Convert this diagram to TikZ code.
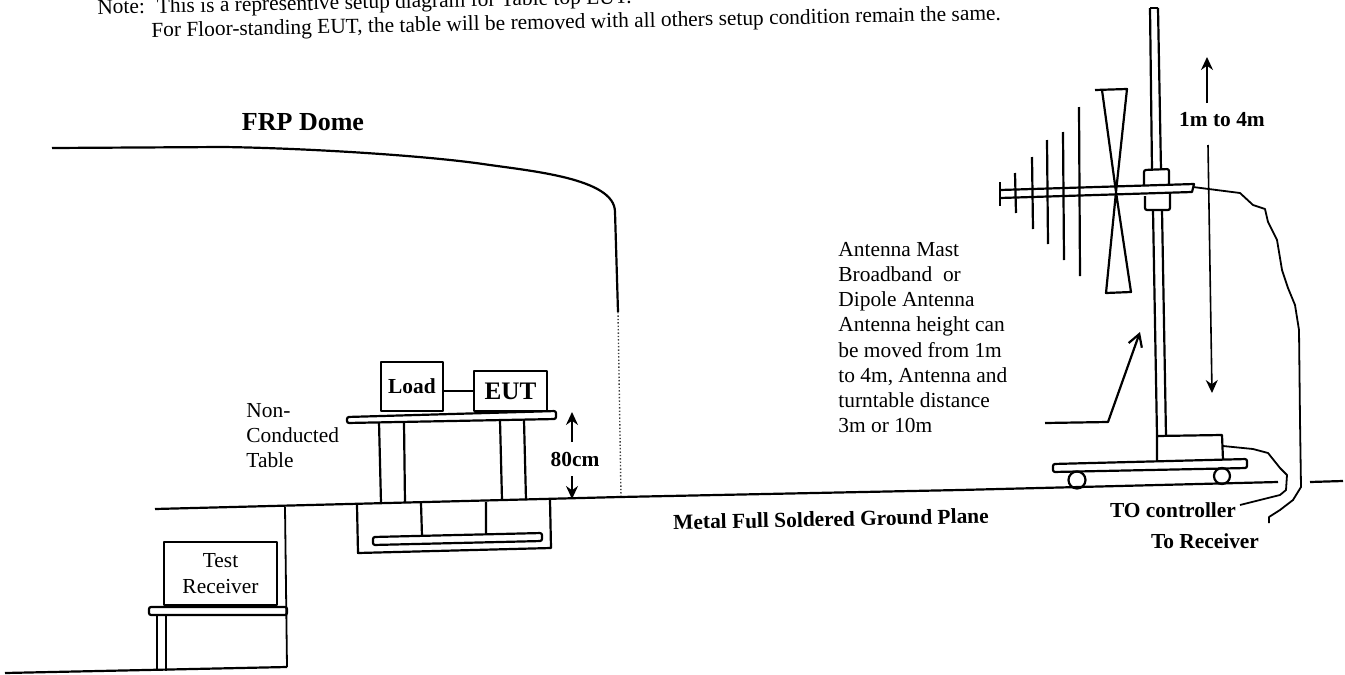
\documentclass[tikz,border=0pt]{standalone}
\usepackage{fontspec}
\setmainfont{Liberation Serif}
\usetikzlibrary{arrows.meta, positioning, calc}

\begin{document}
\begin{tikzpicture}[
    x=0.5pt, y=-0.5pt,
    line join=round,
    every node/.style={font=\fontsize{10.7}{12.6}\selectfont, inner sep=0pt, align=left},
    sketch/.style={line width=1.1pt},
    thinline/.style={line width=0.9pt},
    boldtext/.style={font=\fontsize{10.7}{12.6}\selectfont\bfseries},
    unitbox/.style={draw, line width=1.1pt, align=center},
    barb/.style={-{Stealth[length=6.5pt, width=6pt]}, line width=0.8pt}
]
    \useasboundingbox (0,0) rectangle (1345,675);

    % note on top
    \node[anchor=west, rotate=1.15] (noteone) at (97,9) {Note:\hspace{6pt}This is a representive setup diagram for Table top EUT.};
    \node[anchor=west, rotate=1.15] (notetwo) at (151,32) {For Floor-standing EUT, the table will be removed with all others setup condition remain the same.};

    % dome and ground
    \node[font=\fontsize{13}{15}\selectfont\bfseries] (dome) at (303,122) {FRP Dome};
    \draw[sketch] (52,148) -- (223,147) .. controls (300,148) and (420,155) .. (483,164) .. controls (530,171) and (615,178) .. (615,212) -- (618,312);
    \draw[line width=0.7pt, densely dotted, black!75] (618,312) -- (621,496);
    \draw[sketch] (155,509) -- (620,497) -- (960,490) -- (1278,482);
    \draw[sketch] (1310,482) -- (1343,481);
    \draw[thinline] (285,507) -- (287,667);
    \draw[sketch] (5,673) -- (287,667);

    % test receiver
    \node[unitbox, thinline, minimum width=56.5pt, minimum height=31.5pt] (receiver) at (220.5,573.5) {Test\\Receiver};
    \draw[sketch, rounded corners=1pt] (149,607) rectangle (287,615);
    \draw[thinline] (157,615) -- (157,671) (166,615) -- (166,671);

    % table with load and eut
    \node[unitbox, boldtext, minimum width=31pt, minimum height=24.5pt] (load) at (412,386.5) {Load};
    \node[unitbox, boldtext, font=\fontsize{12.6}{14}\selectfont\bfseries, minimum width=36.5pt, minimum height=20pt] (eut) at (510.5,391) {EUT};
    \draw[sketch] (load.east |- eut) -- (eut);
    \draw[sketch, rounded corners=1pt] (347,417) -- (556,411) -- (556,419) -- (347,423) -- cycle;
    \draw[sketch] (379,422) -- (381,503) (404,422) -- (405,503) (500,420) -- (502,500) (524,420) -- (526,500);
    \draw[sketch] (357,505) -- (358,553) -- (551,548) -- (550,500);
    \draw[sketch, rounded corners=1pt] (373,537) -- (542,533) -- (542,541) -- (373,545) -- cycle;
    \draw[sketch] (421,503) -- (422,536) (486,502) -- (486,534);
    \node (tablelabel) [anchor=west] at (246,435.5) {Non-\\Conducted\\Table};

    % 80cm height
    \node[boldtext] (height) at (575,459) {80cm};
    \coordinate (heighttop) at (572,412);
    \coordinate (heightlow) at (572,499);
    \draw[barb] (572,442) -- (heighttop);
    \draw[barb] (572,476) -- (heightlow);

    \node[boldtext, rotate=1.2] (plane) at (831,519) {Metal Full Soldered Ground Plane};

    % antenna mast
    \draw[sketch] (1150,8) -- (1158,8);
    \draw[sketch] (1150,8) -- (1152,170) (1158,8) -- (1161,170);
    \draw[sketch] (1153,210) -- (1157,436) (1162,210) -- (1166,436);
    \draw[sketch, rounded corners=1pt] (1144,186) -- (1144,170) -- (1169,169) -- (1169,185);
    \draw[sketch, rounded corners=1pt] (1145,196) -- (1145,210) -- (1170,210) -- (1170,194);
    \draw[sketch] (1157,436) -- (1222,435) -- (1223,460) (1157,436) -- (1157,461);
    \draw[sketch, rounded corners=1pt] (1053,464) -- (1247,459) -- (1247,468) -- (1053,472) -- cycle;
    \draw[sketch] (1077,480) circle[radius=8.5] (1222,476) circle[radius=8];

    % log periodic antenna
    \draw[sketch] (1000,182) -- (1000,206);
    \draw[sketch] (1000,190) -- (1194,184) -- (1192,192) -- (1000,198);
    \foreach \xpos/\ytop/\ylow in {1015/173/213, 1032/157/229, 1047/140/244, 1063/132/260, 1079/107/276}
        \draw[sketch] (\xpos,\ytop) -- (\xpos+1,\ylow);
    \draw[sketch] (1095,90) -- (1127,89) -- (1116,192) -- (1131,292) -- (1106,293) -- (1116,192) -- (1102,90);

    % travel arrows
    \node[boldtext] (travel) at (1222,120) {1m to 4m};
    \coordinate (traveltop) at (1207,57);
    \coordinate (travellow) at (1212,393);
    \draw[barb] (1207,103) -- (traveltop);
    \draw[barb] (1208,145) -- (travellow);

    % cables
    \draw[thinline] (1193,187) -- (1240,193) -- (1253,205) -- (1265,209) -- (1268,222) -- (1277,240) -- (1282,270) -- (1288,288) -- (1295,305) -- (1299,330) -- (1300,420) -- (1301,487) -- (1293,500) -- (1280,510) -- (1269,517) -- (1269,523);
    \draw[thinline] (1223,446) -- (1253,449) -- (1268,453) -- (1280,468) -- (1287,475) -- (1286,490) -- (1280,495) -- (1260,500) -- (1240,505);
    \node[boldtext] (controller) at (1173,510) {TO controller};
    \node[boldtext] (toreceiver) at (1205,541) {To Receiver};

    % mast description
    \node[anchor=west] (mastlabel) at (838,337.5) {Antenna Mast\\Broadband~ or\\Dipole Antenna\\Antenna height can\\be moved from 1m\\to 4m, Antenna and\\turntable distance\\3m or 10m};
    \coordinate (masttip) at (1140,332);
    \draw[sketch, -{Straight Barb[length=6pt, width=7pt]}] (1045,423) -- (1108,422) -- (masttip);
\end{tikzpicture}
\end{document}
